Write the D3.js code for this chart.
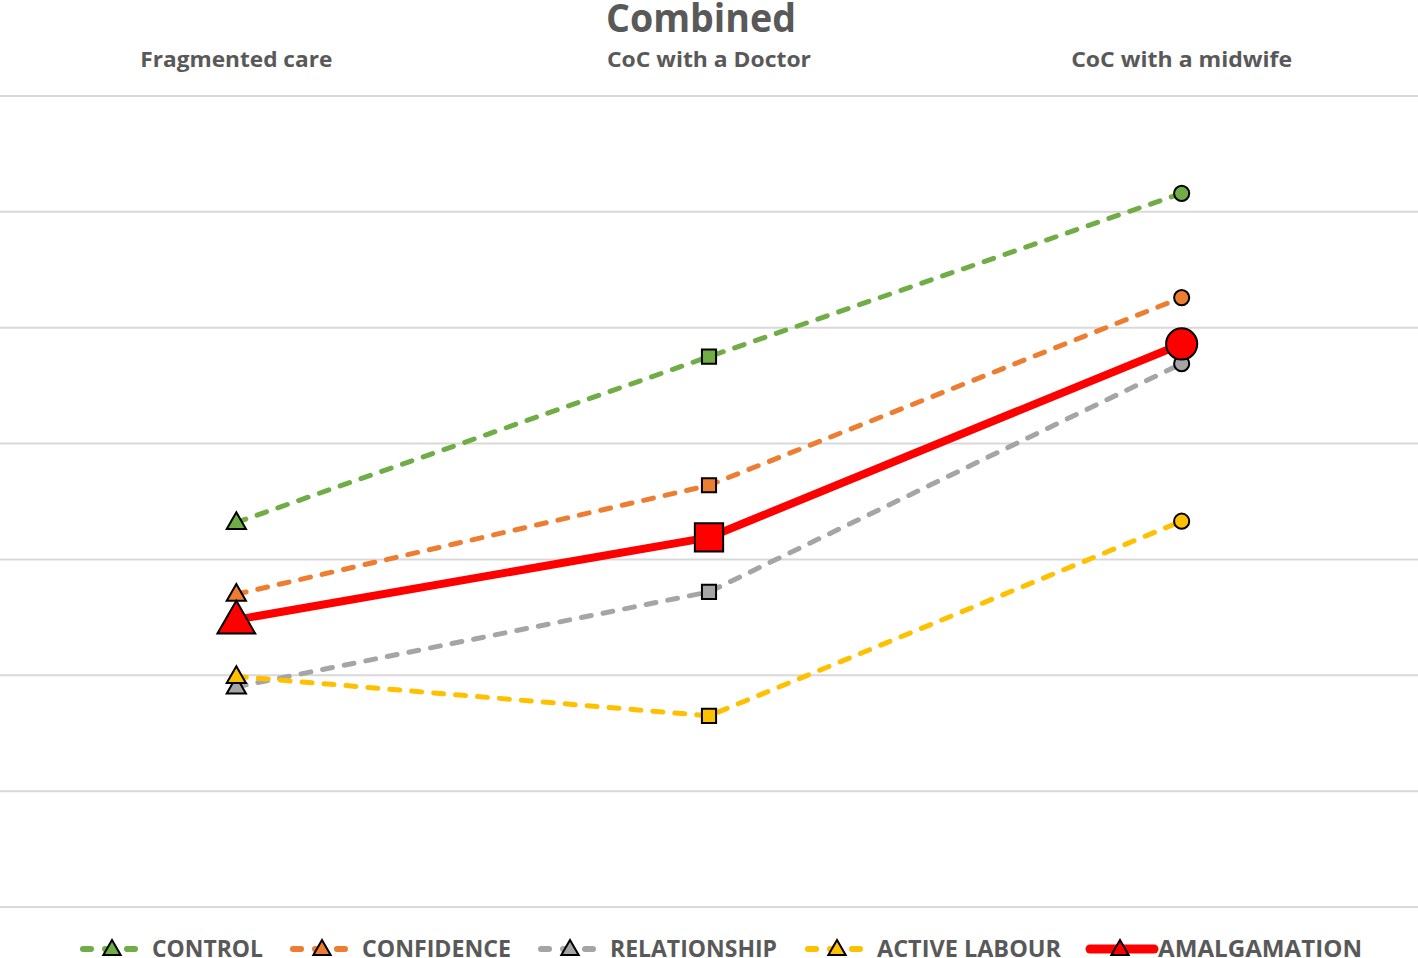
<!DOCTYPE html>
<html>
<head>
<meta charset="utf-8">
<script src="https://cdn.jsdelivr.net/npm/d3@7"></script>
<style>
  body { margin: 0; background: #fff; }
  text { font-family: "Open Sans", Lato, sans-serif; font-weight: bold; fill: #595959; }
</style>
</head>
<body>
<svg width="1418" height="958"></svg>
<script>
const categories = ['Fragmented care', 'CoC with a Doctor', 'CoC with a midwife']
const seriesNames = ['CONTROL', 'CONFIDENCE', 'RELATIONSHIP', 'ACTIVE LABOUR', 'AMALGAMATION']
const control = [3.32, 4.75, 6.16]
const confidence = [2.70, 3.64, 5.26]
const relationship = [1.90, 2.72, 4.69]
const activeLabour = [1.99, 1.65, 3.33]
const amalgamation = [2.48, 3.19, 4.86]
const gridTicks = [0, 1, 2, 3, 4, 5, 6, 7]

const svg = d3.select('svg')
const w = +svg.attr('width')
const h = +svg.attr('height')

const colors = ['#70AD47', '#ED7D31', '#A5A5A5', '#FFC000', '#FF0000']
const shapes = [d3.symbolTriangle, d3.symbolSquare, d3.symbolCircle]

const series = [control, confidence, relationship, activeLabour, amalgamation]
  .map((values, i) => ({ name: seriesNames[i], values, color: colors[i], main: i === 4 }))

const xScale = d3.scaleBand().domain(categories).range([0, w])
const yScale = d3.scaleLinear().domain([0, 7]).range([907, 96])
const xc = c => xScale(c) + xScale.bandwidth() / 2

// gridlines
svg.append('g').selectAll('line').data(gridTicks)
  .enter().append('line')
    .attr('x1', 0).attr('x2', w)
    .attr('y1', d => yScale(d)).attr('y2', d => yScale(d))
    .attr('stroke', '#d9d9d9').attr('stroke-width', 2)

// title + category labels on top
svg.append('text').text('Combined')
  .attr('x', 701).attr('y', 32).attr('text-anchor', 'middle')
  .attr('font-size', 40).attr('textLength', 190).attr('lengthAdjust', 'spacingAndGlyphs')

const catWidths = [192, 204, 221]
svg.append('g').selectAll('text').data(categories)
  .enter().append('text')
    .text(d => d)
    .attr('x', d => xc(d)).attr('y', 67)
    .attr('text-anchor', 'middle').attr('font-size', 21)
    .attr('textLength', (d, i) => catWidths[i]).attr('lengthAdjust', 'spacingAndGlyphs')

const line = d3.line().x((d, i) => xc(categories[i])).y(d => yScale(d))

series.forEach(s => {
  svg.append('path').datum(s.values)
    .attr('d', line)
    .attr('fill', 'none')
    .attr('stroke', s.color)
    .attr('stroke-width', s.main ? 8 : 5)
    .attr('stroke-dasharray', s.main ? null : '10 12')
    .attr('stroke-linecap', s.main ? 'butt' : 'round')
})

series.forEach(s => {
  svg.append('g').selectAll('path').data(s.values)
    .enter().append('path')
      .attr('transform', (d, i) => `translate(${xc(categories[i])}, ${yScale(d) + (i === 0 ? (s.main ? 3 : 1) : 0)})`)
      .attr('d', (d, i) => d3.symbol().type(shapes[i]).size(s.main ? (i === 2 ? 760 : i === 1 ? 800 : 620) : (i === 2 ? 180 : i === 1 ? 200 : 160))())
      .attr('fill', s.color)
      .attr('stroke', '#000')
      .attr('stroke-width', 2)
})

// legend
const legendX = [80, 290, 538, 805, 1088]
const legendW = [111, 149, 167, 184, 204]
const legendY = 949
const lg = svg.append('g').selectAll('g').data(series)
  .enter().append('g')
    .attr('transform', (d, i) => `translate(${legendX[i]}, ${legendY})`)

lg.append('line')
  .attr('x1', d => d.main ? 2 : 3).attr('x2', d => d.main ? 66 : 63)
  .attr('stroke', d => d.color)
  .attr('stroke-width', d => d.main ? 9 : 6)
  .attr('stroke-linecap', 'round')
  .attr('stroke-dasharray', d => d.main ? null : '8 14')
lg.append('path')
  .attr('transform', 'translate(32, 1)')
  .attr('d', d3.symbol().type(d3.symbolTriangle).size(130)())
  .attr('fill', d => d.color)
  .attr('stroke', '#000').attr('stroke-width', 2)
lg.append('text')
  .text(d => d.name)
  .attr('x', (d, i) => i === 4 ? 70 : 72).attr('y', 8)
  .attr('font-size', 24)
  .attr('textLength', (d, i) => legendW[i]).attr('lengthAdjust', 'spacingAndGlyphs')
</script>
</body>
</html>
